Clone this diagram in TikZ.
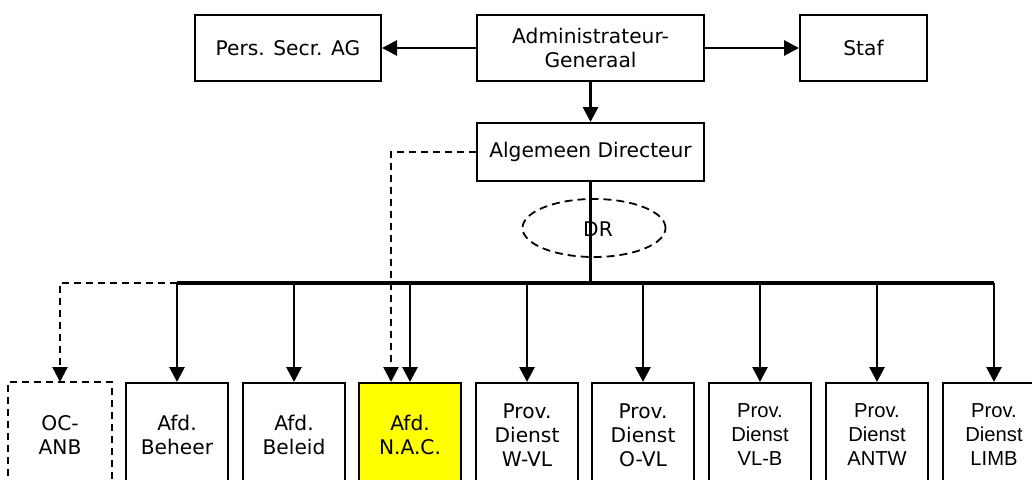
\documentclass[tikz,border=0pt]{standalone}
\usepackage{fontspec}
\setmainfont{DejaVu Sans}
\newfontfamily\arialf{Liberation Sans}
\usetikzlibrary{arrows.meta,shapes.geometric}
\tikzset{
  box/.style={draw, line width=2pt, inner sep=0pt, align=center,
    font=\fontsize{20.2}{24}\selectfont},
  topbox/.style={box, minimum height=66pt},
  lowbox/.style={box, minimum width=102pt, minimum height=104pt},
  arr/.style={line width=2.8pt, -{Triangle[length=15pt,width=15pt]}},
  darr/.style={line width=2.4pt, dash pattern=on 7pt off 5pt, -{Triangle[length=15pt,width=15pt]}},
  bus/.style={line width=3.4pt},
}
\begin{document}
\begin{tikzpicture}[x=1pt,y=-1pt]
\useasboundingbox (0,0) rectangle (1032,479);
\clip (0,0) rectangle (1032,479);
\fill[white] (0,0) rectangle (1032,479);
% top row
\node[topbox, minimum width=186pt] (pers) at (288,48) {Pers. Secr. AG};
\node[topbox, minimum width=227pt] (admin) at (590.5,48) {Administrateur-\\Generaal};
\node[topbox, minimum width=127pt] (staf) at (863.5,48) {Staf};
\node[box, minimum width=227pt, minimum height=58pt] (alg) at (590.5,152) {Algemeen Directeur};
% DR ellipse
\node[ellipse, draw, line width=1.8pt, dash pattern=on 8pt off 5pt, minimum width=143pt, minimum height=58pt, inner sep=0pt] (dr) at (594,228) {};
\node[font=\fontsize{20.2}{24}\selectfont, inner sep=0pt] (drt) at (598,229) {DR};
% bottom row
\node[lowbox, draw=none] (oc) at (60,435) {OC-\\ANB};
\draw[line width=2pt, dash pattern=on 7pt off 5pt] (oc.south west) -- (oc.north west) -- (oc.north east) -- (oc.south east);
\node[lowbox] (beheer) at (177,435) {Afd.\\Beheer};
\node[lowbox] (beleid) at (294,435) {Afd.\\Beleid};
\node[lowbox, fill={rgb,255:red,255;green,255;blue,0}] (nac) at (410,435) {Afd.\\N.A.C.};
\node[lowbox] (wvl) at (527,435) {Prov.\\Dienst\\W-VL};
\node[lowbox] (ovl) at (643,435) {Prov.\\Dienst\\O-VL};
\node[lowbox, font=\arialf\fontsize{20.2}{24}\selectfont] (vlb) at (760,435) {Prov.\\Dienst\\VL-B};
\node[lowbox, font=\arialf\fontsize{20.2}{24}\selectfont] (antw) at (877,435) {Prov.\\Dienst\\ANTW};
\node[lowbox, font=\arialf\fontsize{20.2}{24}\selectfont] (limb) at (994,435) {Prov.\\Dienst\\LIMB};
% connectors
\draw[arr] (admin.west) -- (pers.east);
\draw[arr] (admin.east) -- (staf.west);
\draw[arr] (admin.south) -- (alg.north);
\coordinate (busC) at (590.5,283);
\coordinate (busL) at (177,283);
\coordinate (busR) at (994,283);
\draw[bus] (alg.south) -- (busC);
\draw[bus] (busL) -- (busR);
\foreach \n in {beheer,beleid,nac,wvl,ovl,vlb,antw,limb}
  \draw[arr] (\n.north |- busC) -- (\n.north);
\coordinate (nacd) at ([xshift=-19pt]nac.north);
\draw[darr] (alg.west) -| (nacd);
\draw[darr] (busL) -| (oc.north);
\end{tikzpicture}
\end{document}
